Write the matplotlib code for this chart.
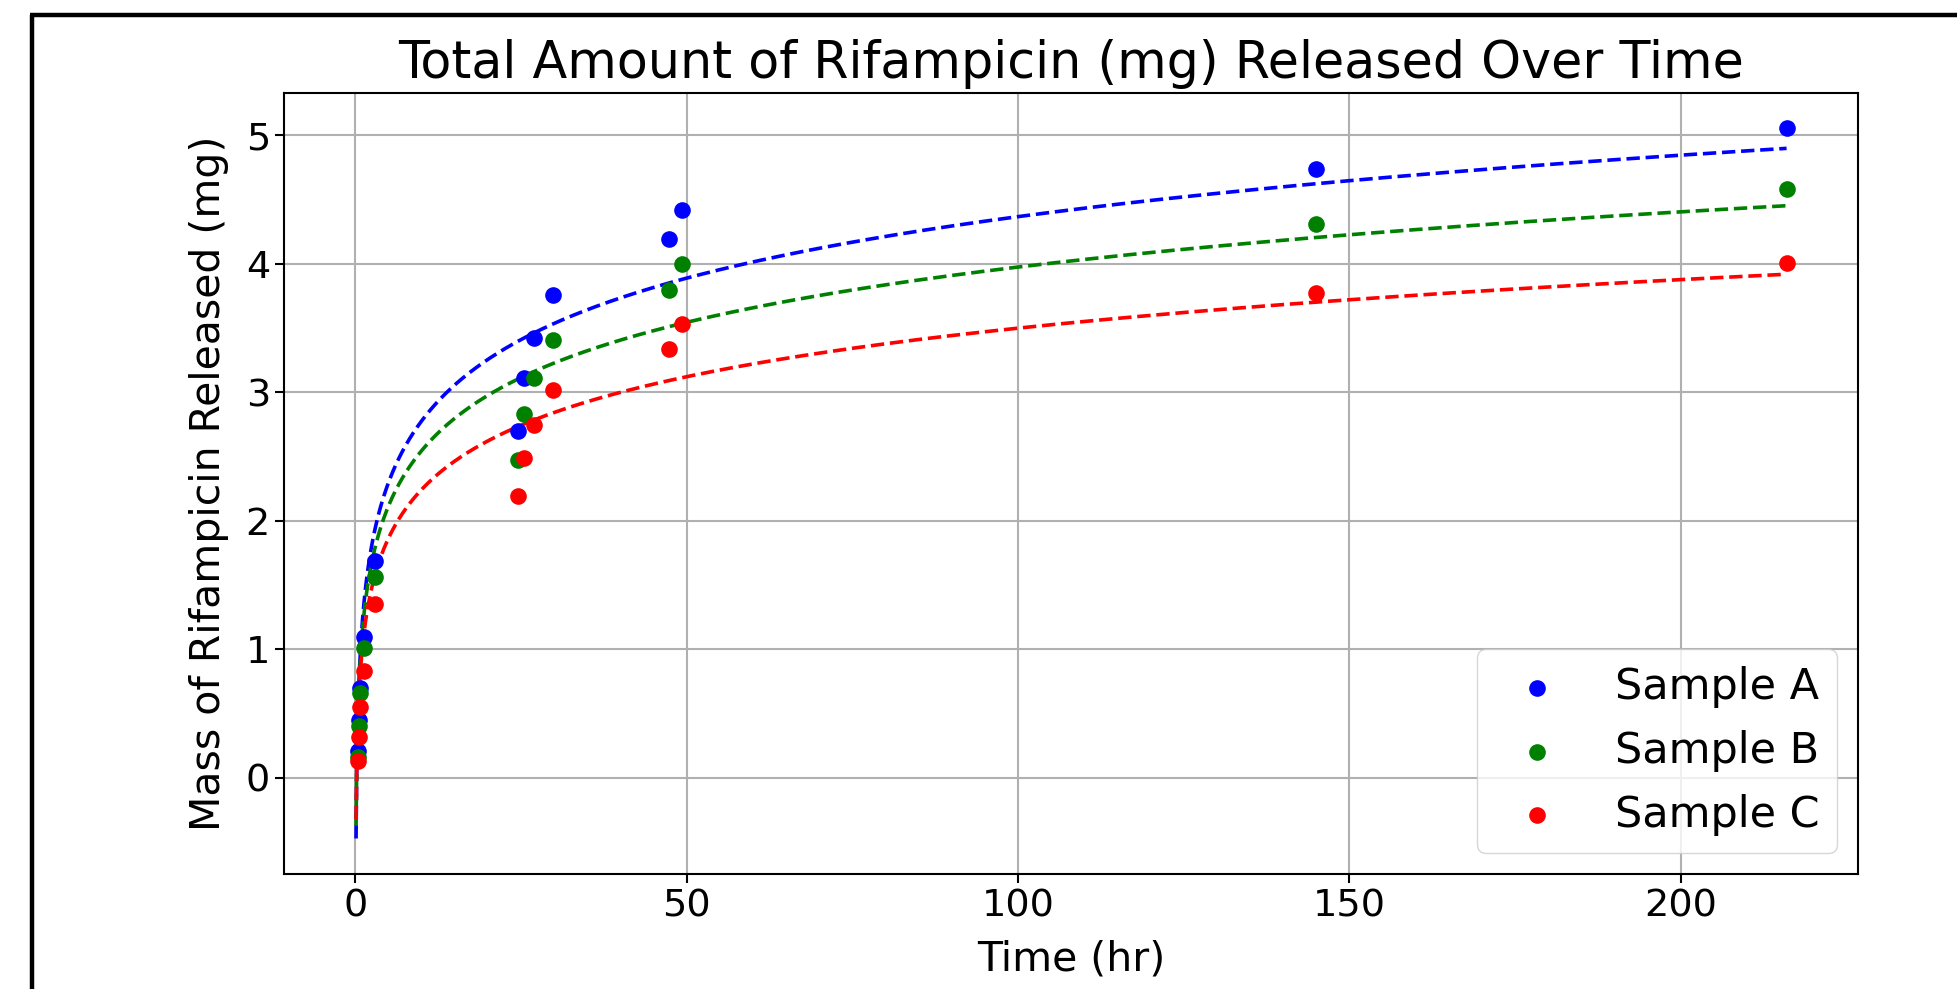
import numpy as np
import matplotlib
matplotlib.use("Agg")
import matplotlib.pyplot as plt
from matplotlib.lines import Line2D

# -----------------------------
# Data
# -----------------------------
time_hr = [0.33, 0.5, 0.75, 1.3, 3.0, 24.5, 25.5, 27.0, 29.75, 47.25, 49.25, 145.0, 216.0]

sample_a = [0.21, 0.45, 0.70, 1.10, 1.69, 2.70, 3.11, 3.42, 3.76, 4.19, 4.42, 4.74, 5.06]
sample_b = [0.16, 0.40, 0.66, 1.01, 1.56, 2.47, 2.83, 3.11, 3.41, 3.80, 4.00, 4.31, 4.58]
sample_c = [0.13, 0.32, 0.55, 0.83, 1.35, 2.19, 2.49, 2.75, 3.02, 3.34, 3.53, 3.77, 4.01]

labels = ["Sample A", "Sample B", "Sample C"]
colors = ["blue", "green", "red"]

# logarithmic fit y = a*ln(t) + b, as drawn in the reference
fit_a = [0.69, 0.62, 0.545]
fit_b = [1.19, 1.12, 0.99]
fit_start = 0.09

# -----------------------------
# Plot
# -----------------------------
fig = plt.figure(figsize=(19.58, 9.89), dpi=100)
ax = fig.add_axes([0.145, 0.116, 0.804, 0.790])

t = np.array(time_hr)
t_fit = np.linspace(fit_start, t.max(), 2000)

for y, lab, col in zip([sample_a, sample_b, sample_c], labels, colors):
    ax.scatter(t, y, color=col, s=120, label=lab, zorder=3)

for a, b, col in zip(fit_a, fit_b, colors):
    ax.plot(t_fit, a * np.log(t_fit) + b, "--", color=col, lw=2.6)

ax.set_xlim(-10.8, 226.8)
ax.set_ylim(-0.75, 5.33)

ax.set_title("Total Amount of Rifampicin (mg) Released Over Time", fontsize=36.5, pad=11)
ax.set_xlabel("Time (hr)", fontsize=29.5, labelpad=11)
ax.set_ylabel("Mass of Rifampicin Released (mg)", fontsize=29.5, labelpad=12)
ax.tick_params(labelsize=27.5, width=1.5, length=6.5)
ax.grid(True, lw=1.5)
for sp in ax.spines.values():
    sp.set_linewidth(1.5)
ax.legend(loc="lower right", fontsize=31)

# black frame around the screenshot (left and top edges)
fig.add_artist(Line2D([0.0163, 0.0163], [0.0, 0.9845], color="black", lw=3.2,
                      transform=fig.transFigure, solid_capstyle="butt"))
fig.add_artist(Line2D([0.0153, 1.0], [0.9845, 0.9845], color="black", lw=3.2,
                      transform=fig.transFigure, solid_capstyle="butt"))

fig.savefig("out.png", dpi=100)
